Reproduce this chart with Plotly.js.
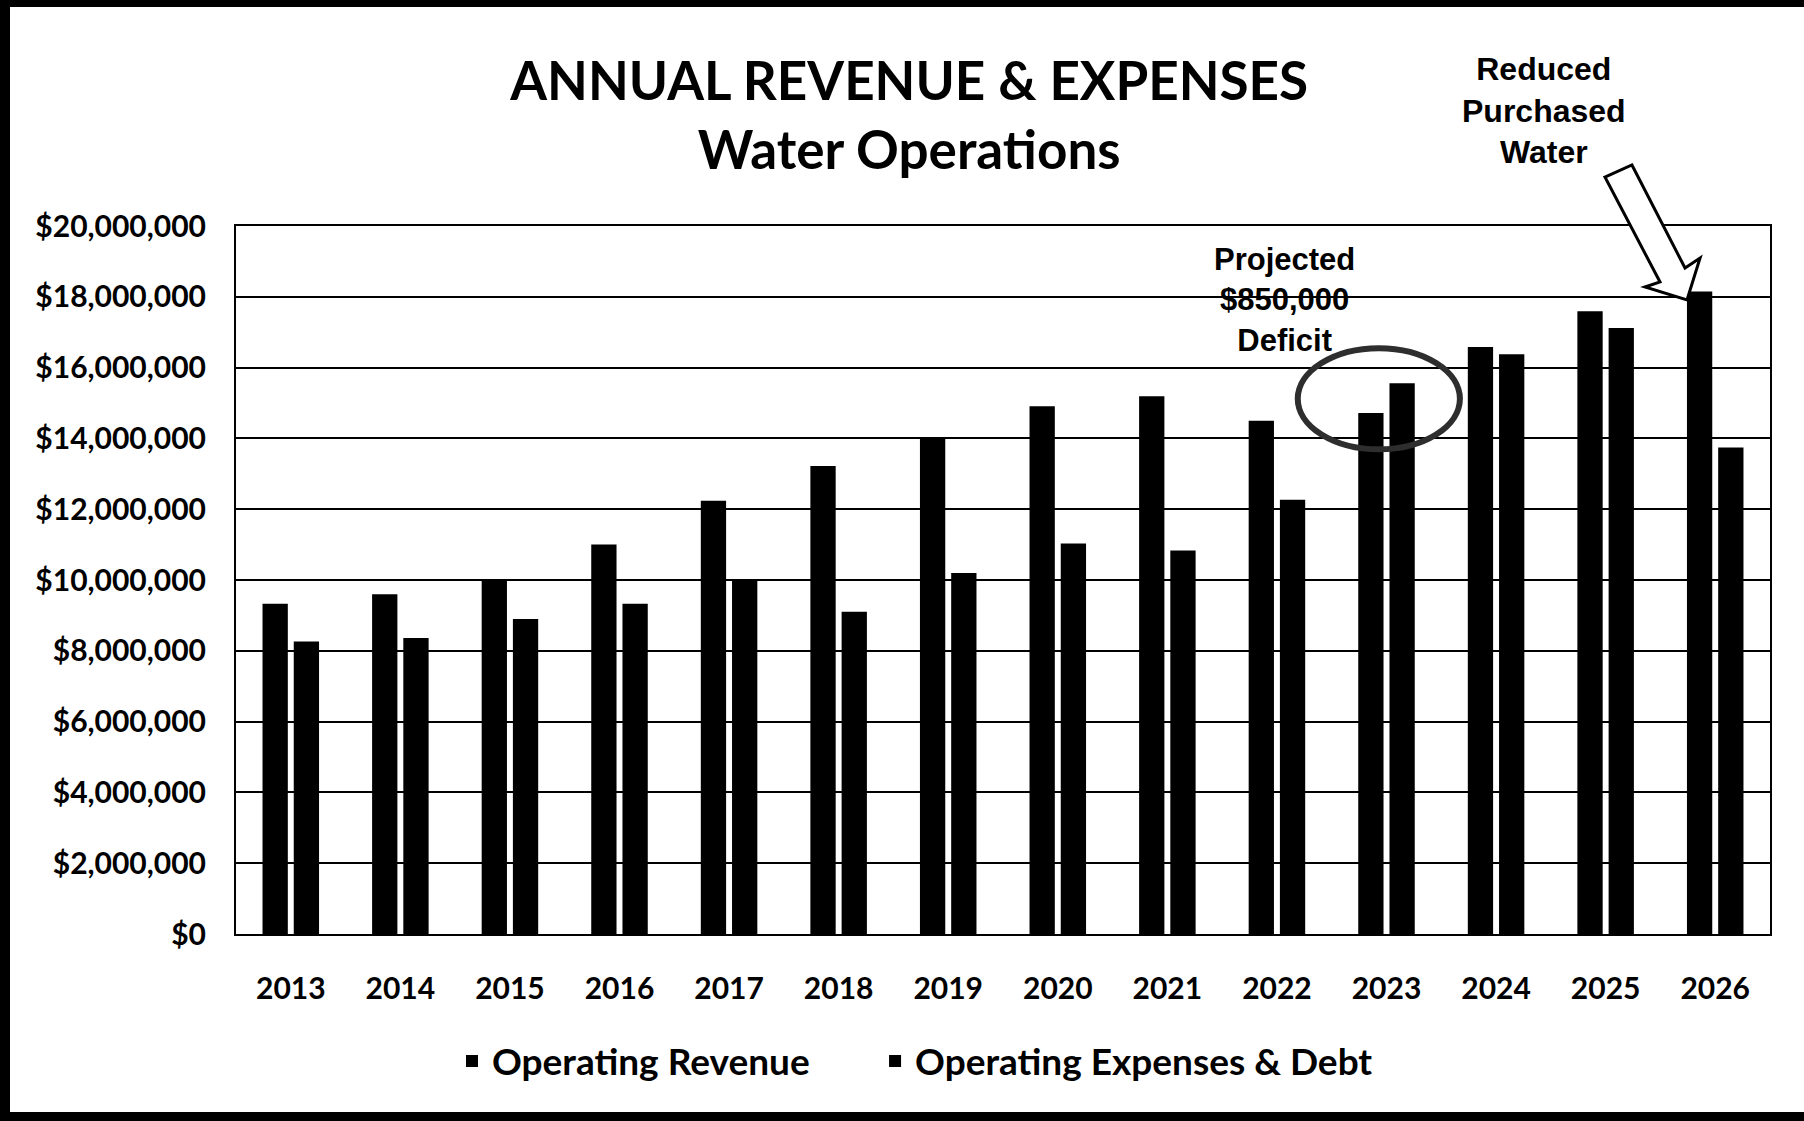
<!DOCTYPE html>
<html>
<head>
<meta charset="utf-8">
<script src="https://cdn.plot.ly/plotly-3.0.1.min.js"></script>
<style>
  html, body { margin: 0; padding: 0; background: #fff; }
  #wrap { position: relative; width: 1804px; height: 1121px; overflow: hidden; }
  #chart { width: 1804px; height: 1121px; }
  /* dark scanner edge around the sheet */
  #edge { position: absolute; left: 0; top: 0; right: 0; bottom: 0; pointer-events: none;
          border-top: 7px solid #000; border-left: 10px solid #000; border-bottom: 9px solid #000; }
</style>
</head>
<body>
<div id="wrap">
  <div id="chart"></div>
  <div id="edge"></div>
</div>
<script>
// Fiscal years shown on the category axis
const years = ['2013', '2014', '2015', '2016', '2017', '2018', '2019',
               '2020', '2021', '2022', '2023', '2024', '2025', '2026'];

// Operating revenue per year (dollars)
const operatingRevenue = [9330000, 9600000, 10030000, 11000000, 12240000, 13220000, 14030000,
                          14910000, 15190000, 14500000, 14720000, 16580000, 17590000, 18150000];

// Operating expenses plus debt service per year (dollars)
const operatingExpenses = [8260000, 8360000, 8900000, 9330000, 10000000, 9100000, 10200000,
                           11030000, 10830000, 12270000, 15560000, 16380000, 17120000, 13740000];

const seriesNames = ['Operating Revenue', 'Operating Expenses & Debt'];

const labelFont = 'Lato, "Open Sans", sans-serif';
const noteFont = '"Liberation Sans", Arial, sans-serif';

const traces = [
  {
    type: 'bar', name: seriesNames[0], x: years, y: operatingRevenue, legend: 'legend',
    marker: { color: '#000000', line: { width: 0 } }
  },
  {
    type: 'bar', name: seriesNames[1], x: years, y: operatingExpenses, legend: 'legend2',
    marker: { color: '#000000', line: { width: 0 } }
  }
];

// shared look of the two legend boxes under the axis
const legendStyle = {
  orientation: 'h', xanchor: 'left', y: -0.18, yanchor: 'middle',
  font: { family: labelFont, size: 37, weight: 'bold', color: '#000' },
  itemwidth: 30, bgcolor: 'rgba(0,0,0,0)'
};

const layout = {
  width: 1804, height: 1121,
  paper_bgcolor: '#ffffff', plot_bgcolor: '#ffffff',
  margin: { l: 236, r: 34, t: 226, b: 187 },
  barmode: 'group', bargap: 0.43, bargroupgap: 0.19,
  font: { family: labelFont, color: '#000' },
  title: {
    text: '<b>ANNUAL REVENUE &amp; EXPENSES</b><br><b>Water Operations</b>',
    font: { family: labelFont, size: 53, color: '#000' },
    x: 0.504, xref: 'container', xanchor: 'center',
    y: 0.911, yref: 'container', yanchor: 'middle'
  },
  xaxis: {
    type: 'category',
    showline: true, mirror: true, linecolor: '#000', linewidth: 2,
    showgrid: false, ticks: '', ticklabelstandoff: 27,
    tickfont: { family: labelFont, size: 30, weight: 'bold', color: '#000' }
  },
  yaxis: {
    range: [0, 20000000], dtick: 2000000, tick0: 0,
    tickprefix: '$', tickformat: ',.0f',
    showline: true, mirror: true, linecolor: '#000', linewidth: 2,
    showgrid: true, gridcolor: '#000', gridwidth: 2, zeroline: false,
    ticks: '', ticklabelstandoff: 22,
    tickfont: { family: labelFont, size: 30, weight: 'bold', color: '#000' }
  },
  showlegend: true,
  legend: Object.assign({}, legendStyle, { x: 0.1408 }),
  legend2: Object.assign({}, legendStyle, { x: 0.4166 }),
  annotations: [
    {
      text: '<b>Reduced</b><br><b>Purchased</b><br><b>Water</b>',
      xref: 'paper', yref: 'paper', x: 0.8527, y: 1.1638,
      xanchor: 'center', yanchor: 'middle', showarrow: false, align: 'center',
      font: { family: noteFont, size: 32, color: '#000' }
    },
    {
      text: '<b>Projected</b><br><b>$850,000</b><br><b>Deficit</b>',
      xref: 'paper', yref: 'y', x: 0.6838, y: 17920000,
      xanchor: 'center', yanchor: 'middle', showarrow: false, align: 'center',
      font: { family: noteFont, size: 31, color: '#000' }
    }
  ],
  shapes: [
    // hand-drawn ring around the 2023 pair
    {
      type: 'circle', xref: 'x', yref: 'y',
      x0: 9.19, x1: 10.67, y0: 13690000, y1: 16550000,
      line: { color: '#2e2e2e', width: 6 }, fillcolor: 'rgba(0,0,0,0)', layer: 'above'
    },
    // hollow block arrow pointing at the 2026 revenue bar
    {
      type: 'path', xref: 'paper', yref: 'paper',
      path: 'M 0.8924 1.0692 L 0.9100 1.0862 L 0.9446 0.9407 L 0.9544 0.9548 ' +
            'L 0.9459 0.8955 L 0.9185 0.9138 L 0.9283 0.9209 Z',
      line: { color: '#000', width: 3 }, fillcolor: '#ffffff', layer: 'above'
    }
  ]
};

Plotly.newPlot('chart', traces, layout, { displayModeBar: false, staticPlot: true });
</script>
</body>
</html>
